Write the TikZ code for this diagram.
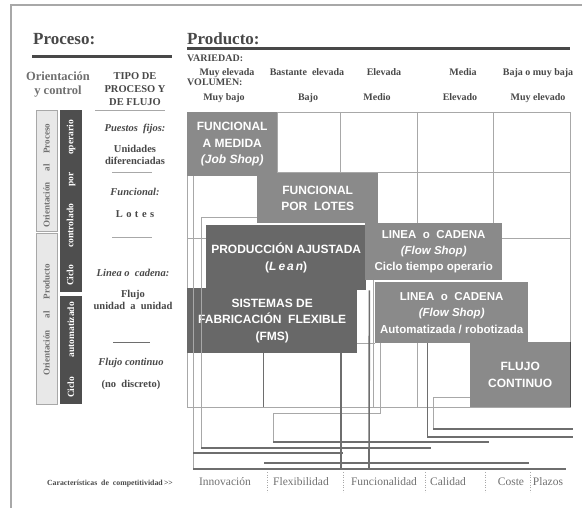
\documentclass[tikz,border=0pt]{standalone}
\usepackage{fontspec}
\setmainfont{Liberation Serif}
\newfontfamily\boxfont{Liberation Sans}
\usetikzlibrary{calc}
\definecolor{boxgray}{HTML}{8A8A8A}
\definecolor{boxdark}{HTML}{686868}
\definecolor{barc}{HTML}{6E6E6E}
\definecolor{gridc}{HTML}{A8A8A8}
\definecolor{headc}{HTML}{484848}
\definecolor{lightbox}{HTML}{E8E8E8}
\definecolor{darkside}{HTML}{4E4E4E}
\definecolor{labc}{HTML}{707070}
\begin{document}
\begin{tikzpicture}[x=1pt,y=-1pt,
  pbox/.style={fill=boxgray, text=white, font=\boxfont\bfseries\fontsize{12}{16.5}\selectfont,
    align=center, inner sep=0pt, anchor=north west},
  dbox/.style={pbox, fill=boxdark},
  gridl/.style={draw=gridc, line width=0.7pt},
  darkl/.style={draw=barc, line width=0.9pt},
  thinl/.style={draw=gridc, line width=0.6pt},
  barl/.style={draw=barc, line width=2.3pt},
  vthick/.style={draw=barc, line width=1.6pt},
  sep/.style={draw=gridc, line width=0.5pt, dotted},
  head/.style={font=\bfseries\fontsize{17}{20}\selectfont, text=headc, inner sep=0pt},
  small/.style={font=\bfseries\fontsize{10}{11}\selectfont, text=headc, inner sep=0pt},
  colt/.style={font=\bfseries\fontsize{10.5}{12.5}\selectfont, text=headc, inner sep=0pt, align=center},
  lab/.style={font=\fontsize{11.5}{13}\selectfont, text=labc, inner sep=0pt},
  sidel/.style={fill=lightbox, draw=gridc, line width=0.5pt},
  sided/.style={fill=darkside},
]
\useasboundingbox (0,0) rectangle (582,508);
% frame
\draw[draw=gridc, line width=1.5pt] (11,508) -- (11,5) -- (582,5);

% headings
\node[head, anchor=base west] (proc) at (33,45) {Proceso:};
\draw[draw=headc, line width=3pt] (32,57) -- (172,57);
\node[head, anchor=base west] (prod) at (187,45) {Producto:};
\draw[draw=headc, line width=3pt] (187,49) -- (570,49);

\node[font=\bfseries\fontsize{12.5}{14.5}\selectfont, text=labc, align=center, inner sep=0pt, anchor=base] (orc) at (58,95) {Orientación\\y control};
\node[colt, font=\bfseries\fontsize{10.5}{13}\selectfont, anchor=base] (tipo) at (135,106) {TIPO DE\\PROCESO Y\\DE FLUJO};
\draw[thinl] (95,110) -- (165,110);

\node[small, anchor=base west] (var) at (187,62) {VARIEDAD:};
\node[small, anchor=base] (v1) at (227,76) {Muy elevada};
\node[small, anchor=base] (v2) at (307,76) {Bastante\ \ elevada};
\node[small, anchor=base] (v3) at (384,76) {Elevada};
\node[small, anchor=base] (v4) at (463,76) {Media};
\node[small, anchor=base] (v5) at (538,76) {Baja o muy baja};
\node[small, anchor=base west] (vol) at (187,86) {VOLUMEN:};
\node[small, anchor=base] (w1) at (224,101) {Muy bajo};
\node[small, anchor=base] (w2) at (308,101) {Bajo};
\node[small, anchor=base] (w3) at (377,101) {Medio};
\node[small, anchor=base] (w4) at (460,101) {Elevado};
\node[small, anchor=base] (w5) at (538,101) {Muy elevado};

% side bars
\path[sidel] (36,110) rectangle (57,231);
\path[sidel] (36,233) rectangle (57,404);
\path[sided] (60,110) rectangle (82,292);
\path[sided] (60,296) rectangle (82,404);
\node[rotate=90, font=\bfseries\fontsize{9}{10}\selectfont, text=labc, text width=104pt, inner sep=0pt] (op) at (46.5,176) {Orientación\hfill al\hfill Proceso};
\node[rotate=90, font=\bfseries\fontsize{9}{10}\selectfont, text=labc, text width=112pt, inner sep=0pt] (opr) at (46.5,320) {Orientación\hfill al\hfill Producto};
\node[rotate=90, font=\bfseries\fontsize{9.5}{10}\selectfont, text=white, text width=166pt, inner sep=0pt] (cc) at (71,203) {Ciclo\hfill controlado\hfill por\hfill operario};
\node[rotate=90, font=\bfseries\fontsize{9.5}{10}\selectfont, text=white, text width=96pt, inner sep=0pt] (ca) at (71,350) {Ciclo\hfill automatizado};

% middle column
\node[colt, anchor=base] (t1) at (135,132) {\itshape Puestos\ \ fijos:};
\node[colt, anchor=base] (t2) at (135,165) {Unidades\\diferenciadas};
\draw[thinl] (112,172) -- (152,172);
\node[colt, anchor=base] (t3) at (135,196) {\itshape Funcional:};
\node[colt, anchor=base] (t4) at (135,218) {L\,\,o\,\,t\,\,e\,\,s};
\draw[thinl] (112,237) -- (152,237);
\node[colt, anchor=base] (t5) at (133,277) {\itshape Linea\ o\ \ cadena:};
\node[colt, font=\bfseries\fontsize{10.5}{12}\selectfont, anchor=base] (t6) at (133,309) {Flujo\\unidad\ \ a\ \ unidad};
\draw[darkl, line width=0.6pt] (113,342) -- (150,342);
\node[colt, anchor=base] (t7) at (131,366) {\itshape Flujo continuo};
\node[colt, anchor=base] (t8) at (131,388) {(no\ \ discreto)};

% grid
\draw[gridl] (187,112) rectangle (570,407);
\draw[gridl] (187,172) -- (570,172);
\draw[gridl] (187,238) -- (206,238);
\draw[gridl] (502,238) -- (570,238);
\draw[gridl] (277,112) -- (277,172);
\draw[gridl] (340,112) -- (340,173);
\draw[gridl] (417,112) -- (417,223);
\draw[gridl] (493,112) -- (493,223);
\draw[gridl] (187,407) -- (570,407);

% boxes
\node[pbox, minimum width=90pt, minimum height=64pt] (job) at (187,112) {FUNCIONAL\\A MEDIDA\\\textit{(Job Shop)}};
\node[pbox, minimum width=121pt, minimum height=50pt] (lotes) at (257,173) {FUNCIONAL\\POR\ \ LOTES};
\node[dbox, minimum width=160pt, minimum height=65pt] (lean) at (206,225) {PRODUCCIÓN AJUSTADA\\(\textit{L\,e\,a\,n})};
\node[pbox, minimum width=137pt, minimum height=57pt, font=\boxfont\bfseries\fontsize{11.5}{16}\selectfont] (lin1) at (365,223) {LINEA\ \ o\ \ CADENA\\\textit{(Flow Shop)}\\Ciclo tiempo operario};
\node[dbox, minimum width=170pt, minimum height=65pt] (fms) at (187,288) {SISTEMAS DE\\FABRICACIÓN\ \ FLEXIBLE\\(FMS)};
\node[pbox, minimum width=153pt, minimum height=61pt, font=\boxfont\bfseries\fontsize{11.5}{16.5}\selectfont] (lin2) at (375,282) {LINEA\ \ o\ \ CADENA\\\textit{(Flow Shop)}\\Automatizada / robotizada};
\node[pbox, minimum width=100pt, minimum height=65pt] (flujo) at (470,342) {FLUJO\\CONTINUO};
\draw[draw=darkside, line width=1.2pt] (flujo.north east) -- (flujo.south east);

% lower grid / connectors
\draw[darkl] ($(fms.south west)+(76,0)$) -- ++(0,54);
\draw[gridl] ($(lin2.south west)+(42,0)$) -- ++(0,64);
\draw[thinl] (fms.south east |- lin2.south west) -- (lin2.south west);
\draw[thinl] ($(lin1.south west)+(8,0)$) -- ++(0,128);
% bars
\coordinate (bA) at (433,429);
\coordinate (bB) at (427,437);
\coordinate (bC) at (273,442);
\coordinate (bD) at (201,448);
\coordinate (bE) at (193,453);
\coordinate (bF) at (264,463);
\coordinate (bG) at (193,469);
\draw[thinl] ($(flujo.south west)+(0,-10)$) -| (bA);
\draw[darkl, line width=0.7pt] ($(lin2.south west)+(52,0)$) -- (bB);
\draw[thinl] ($(lin2.south west)+(5,0)$) |- (273,413) -- (bC);
\draw[thinl] ($(lotes.south west)+(0,-6)$) -| (bD);
\draw[thinl] ($(job.south west)+(6,0)$) -- (bG);
\draw[vthick] ($(fms.south west)+(154,0)$) -- (341,469);
\draw[vthick] ($(lean.south east)+(3,0)$) -- (369,469);
\draw[barl] (bA) -- (573,429);
\draw[barl] (bB) -- (573,437);
\draw[barl] (bC) -- (489,442);
\draw[barl] (bD) -- (431,448);
\draw[barl] (bE) -- (343,453);
\draw[barl] (bF) -- (529,463);
\draw[barl] (bG) -- (566,469);

% separators and labels
\foreach \x in {267,343,425,485,530} \draw[sep] (\x,472) -- (\x,492);
\node[font=\bfseries\fontsize{7.8}{9}\selectfont, text=headc, inner sep=0pt, anchor=base] (car) at (110,485) {Características\ \ de\ \ competitividad\,{>}{>}};
\node[lab, anchor=base] (l1) at (225,485) {Innovación};
\node[lab, anchor=base] (l2) at (301,485) {Flexibilidad};
\node[lab, anchor=base] (l3) at (384,485) {Funcionalidad};
\node[lab, anchor=base] (l4) at (448,485) {Calidad};
\node[lab, anchor=base] (l5) at (511,485) {Coste};
\node[lab, anchor=base] (l6) at (548,485) {Plazos};
\end{tikzpicture}
\end{document}
